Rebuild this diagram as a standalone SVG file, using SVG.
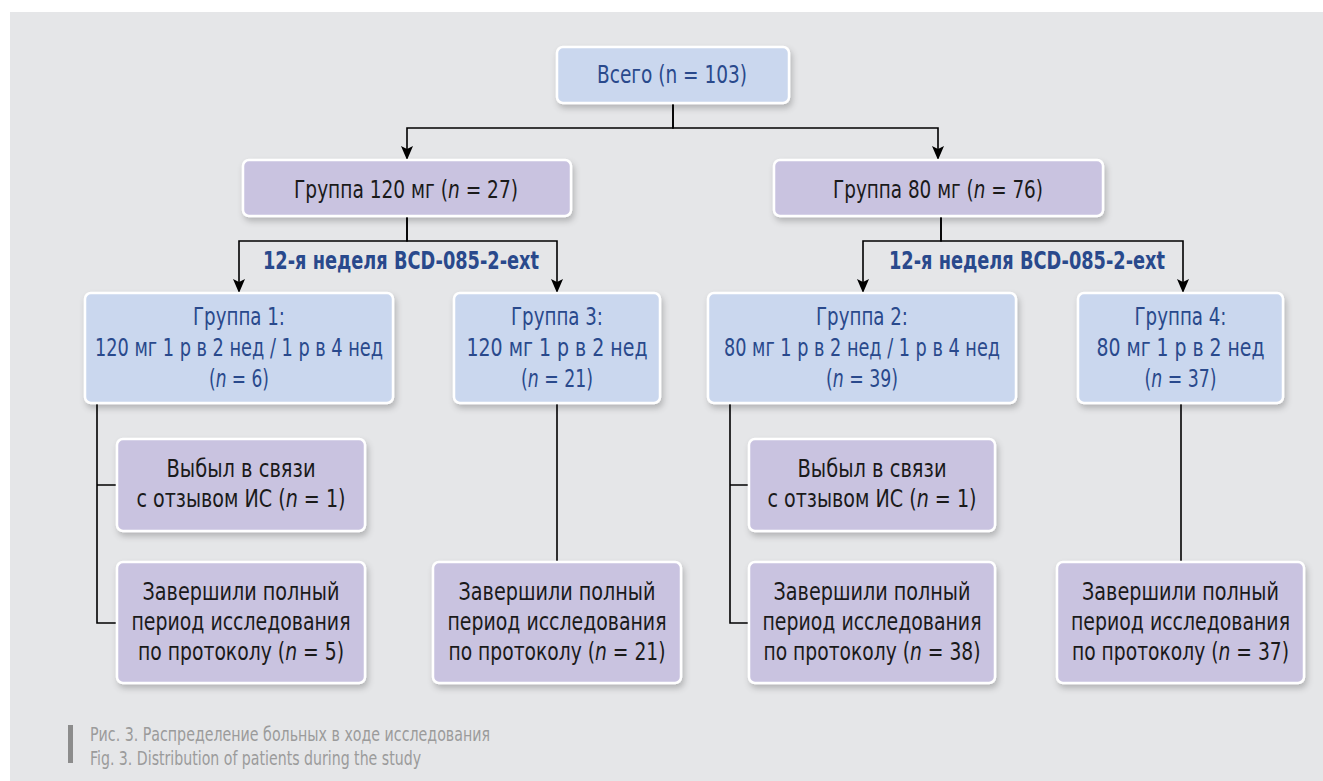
<svg xmlns="http://www.w3.org/2000/svg" width="1323" height="781" viewBox="0 0 1323 781">
<defs>
<filter id="sh" x="-10%" y="-20%" width="130%" height="150%">
<feDropShadow dx="2" dy="4" stdDeviation="3" flood-color="#000" flood-opacity="0.22"/>
</filter>
<marker id="ah" markerUnits="userSpaceOnUse" markerWidth="14" markerHeight="16" refX="14" refY="6" orient="auto" viewBox="0 0 14 12">
<path d="M0,0 L14,6 L0,12 L3,6 z" fill="#000"/>
</marker>
</defs>
<style>
.bg{fill:#e5e6e8}
.blue{fill:#cad7ee;stroke:#fff;stroke-width:2.5}
.purp{fill:#c9c3e0;stroke:#fff;stroke-width:2.5}
text{font-family:'Liberation Sans Narrow','Arial Narrow','DejaVu Sans Condensed',sans-serif;font-size:24px;text-anchor:middle}
.bt{fill:#29498c}
.pt{fill:#1a1a1a}
.lab{fill:#29498c;font-weight:bold}
.cap{fill:#9b9b9b;font-size:19px;text-anchor:start}
.c{fill:none;stroke:#000;stroke-width:1.6}
</style>
<rect class="bg" x="10" y="12" width="1313" height="769"/>

<g id="connectors">
<path class="c" d="M673,103 V128 H407 V160" marker-end="url(#ah)"/>
<path class="c" d="M673,103 V128 H938 V160" marker-end="url(#ah)"/>
<path class="c" d="M407,216 V241 H239 V293" marker-end="url(#ah)"/>
<path class="c" d="M407,216 V241 H557 V293" marker-end="url(#ah)"/>
<path class="c" d="M941,216 V241 H863 V293" marker-end="url(#ah)"/>
<path class="c" d="M941,216 V241 H1183 V293" marker-end="url(#ah)"/>
<path class="c" d="M97,403 V623 H117 M97,485 H117"/>
<path class="c" d="M557,403 V562"/>
<path class="c" d="M730,403 V623 H749 M730,485 H749"/>
<path class="c" d="M1181,403 V562"/>
<text class="lab" x="401" y="269" textLength="276" lengthAdjust="spacingAndGlyphs">12-я неделя BCD-085-2-ext</text>
<text class="lab" x="1027" y="269" textLength="276" lengthAdjust="spacingAndGlyphs">12-я неделя BCD-085-2-ext</text>
</g>

<g id="total">
<rect class="blue" filter="url(#sh)" x="557" y="47" width="232" height="56" rx="6"/>
<text class="bt" x="672" y="83" font-size="25" textLength="150" lengthAdjust="spacingAndGlyphs">Всего (n = 103)</text>
</g>

<g id="g120">
<rect class="purp" filter="url(#sh)" x="243" y="160" width="328" height="56" rx="6"/>
<text class="pt" x="406" y="198" textLength="224" lengthAdjust="spacingAndGlyphs">Группа 120 мг (<tspan font-style="italic">n</tspan> = 27)</text>
</g>

<g id="g80">
<rect class="purp" filter="url(#sh)" x="774" y="160" width="329" height="56" rx="6"/>
<text class="pt" x="938" y="198" textLength="210" lengthAdjust="spacingAndGlyphs">Группа 80 мг (<tspan font-style="italic">n</tspan> = 76)</text>
</g>

<g id="group1">
<rect class="blue" filter="url(#sh)" x="85" y="293" width="308" height="110" rx="6"/>
<text class="bt" x="239" y="325" textLength="92" lengthAdjust="spacingAndGlyphs">Группа 1:</text>
<text class="bt" x="239" y="356" textLength="288" lengthAdjust="spacingAndGlyphs">120 мг 1 р в 2 нед / 1 р в 4 нед</text>
<text class="bt" x="239" y="387" textLength="60" lengthAdjust="spacingAndGlyphs">(<tspan font-style="italic">n</tspan> = 6)</text>
</g>

<g id="group3">
<rect class="blue" filter="url(#sh)" x="454" y="293" width="206" height="110" rx="6"/>
<text class="bt" x="557" y="325" textLength="92" lengthAdjust="spacingAndGlyphs">Группа 3:</text>
<text class="bt" x="557" y="356" textLength="181" lengthAdjust="spacingAndGlyphs">120 мг 1 р в 2 нед</text>
<text class="bt" x="557" y="387" textLength="72" lengthAdjust="spacingAndGlyphs">(<tspan font-style="italic">n</tspan> = 21)</text>
</g>

<g id="group2">
<rect class="blue" filter="url(#sh)" x="708" y="293" width="308" height="110" rx="6"/>
<text class="bt" x="862" y="325" textLength="92" lengthAdjust="spacingAndGlyphs">Группа 2:</text>
<text class="bt" x="862" y="356" textLength="276" lengthAdjust="spacingAndGlyphs">80 мг 1 р в 2 нед / 1 р в 4 нед</text>
<text class="bt" x="862" y="387" textLength="72" lengthAdjust="spacingAndGlyphs">(<tspan font-style="italic">n</tspan> = 39)</text>
</g>

<g id="group4">
<rect class="blue" filter="url(#sh)" x="1078" y="293" width="205" height="110" rx="6"/>
<text class="bt" x="1180.5" y="325" textLength="92" lengthAdjust="spacingAndGlyphs">Группа 4:</text>
<text class="bt" x="1180.5" y="356" textLength="168" lengthAdjust="spacingAndGlyphs">80 мг 1 р в 2 нед</text>
<text class="bt" x="1180.5" y="387" textLength="72" lengthAdjust="spacingAndGlyphs">(<tspan font-style="italic">n</tspan> = 37)</text>
</g>

<g id="dropout1">
<rect class="purp" filter="url(#sh)" x="117" y="439" width="248" height="92" rx="6"/>
<text class="pt" x="241" y="477" textLength="149" lengthAdjust="spacingAndGlyphs">Выбыл в связи</text>
<text class="pt" x="241" y="507" textLength="209" lengthAdjust="spacingAndGlyphs">с отзывом ИС (<tspan font-style="italic">n</tspan> = 1)</text>
</g>

<g id="dropout2">
<rect class="purp" filter="url(#sh)" x="749" y="439" width="246" height="92" rx="6"/>
<text class="pt" x="872" y="477" textLength="149" lengthAdjust="spacingAndGlyphs">Выбыл в связи</text>
<text class="pt" x="872" y="507" textLength="209" lengthAdjust="spacingAndGlyphs">с отзывом ИС (<tspan font-style="italic">n</tspan> = 1)</text>
</g>

<g id="done1">
<rect class="purp" filter="url(#sh)" x="117" y="562" width="248" height="121" rx="6"/>
<text class="pt" x="241" y="600" textLength="197" lengthAdjust="spacingAndGlyphs">Завершили полный</text>
<text class="pt" x="241" y="630" textLength="219" lengthAdjust="spacingAndGlyphs">период исследования</text>
<text class="pt" x="241" y="660" textLength="206" lengthAdjust="spacingAndGlyphs">по протоколу (<tspan font-style="italic">n</tspan> = 5)</text>
</g>

<g id="done3">
<rect class="purp" filter="url(#sh)" x="433" y="562" width="248" height="121" rx="6"/>
<text class="pt" x="557" y="600" textLength="197" lengthAdjust="spacingAndGlyphs">Завершили полный</text>
<text class="pt" x="557" y="630" textLength="219" lengthAdjust="spacingAndGlyphs">период исследования</text>
<text class="pt" x="557" y="660" textLength="217" lengthAdjust="spacingAndGlyphs">по протоколу (<tspan font-style="italic">n</tspan> = 21)</text>
</g>

<g id="done2">
<rect class="purp" filter="url(#sh)" x="749" y="562" width="246" height="121" rx="6"/>
<text class="pt" x="872" y="600" textLength="197" lengthAdjust="spacingAndGlyphs">Завершили полный</text>
<text class="pt" x="872" y="630" textLength="219" lengthAdjust="spacingAndGlyphs">период исследования</text>
<text class="pt" x="872" y="660" textLength="217" lengthAdjust="spacingAndGlyphs">по протоколу (<tspan font-style="italic">n</tspan> = 38)</text>
</g>

<g id="done4">
<rect class="purp" filter="url(#sh)" x="1057" y="562" width="247" height="121" rx="6"/>
<text class="pt" x="1180.5" y="600" textLength="197" lengthAdjust="spacingAndGlyphs">Завершили полный</text>
<text class="pt" x="1180.5" y="630" textLength="219" lengthAdjust="spacingAndGlyphs">период исследования</text>
<text class="pt" x="1180.5" y="660" textLength="217" lengthAdjust="spacingAndGlyphs">по протоколу (<tspan font-style="italic">n</tspan> = 37)</text>
</g>

<g id="caption">
<rect x="68" y="725" width="5" height="38" fill="#8c8c8c"/>
<text class="cap" x="90" y="741" textLength="400" lengthAdjust="spacingAndGlyphs">Рис. 3. Распределение больных в ходе исследования</text>
<text class="cap" x="90" y="765" textLength="331" lengthAdjust="spacingAndGlyphs">Fig. 3. Distribution of patients during the study</text>
</g>
</svg>
